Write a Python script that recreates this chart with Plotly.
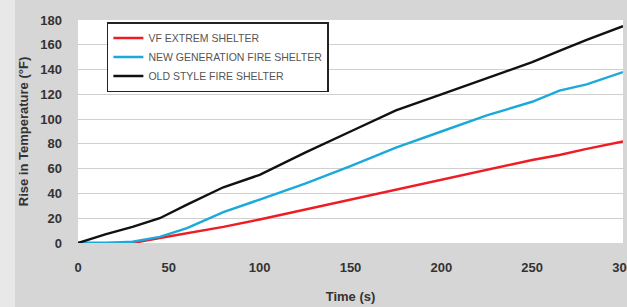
import plotly.graph_objects as go

time_s = [0, 15, 30, 45, 60, 80, 100, 125, 150, 175, 200, 225, 250, 265, 280, 300]
vf_extrem = [0, 0, 0, 4, 8, 13, 19, 27, 35, 43, 51, 59, 67, 71, 76, 82]
new_gen = [0, 0, 1, 5, 12, 25, 35, 48, 62, 77, 90, 103, 114, 123, 128, 138]
old_style = [0, 7, 13, 20, 31, 45, 55, 73, 90, 107, 120, 133, 146, 155, 164, 175]

series_names = ["VF EXTREM SHELTER", "NEW GENERATION FIRE SHELTER", "OLD STYLE FIRE SHELTER"]
series_colors = ["#ee1c25", "#1ba9d9", "#111111"]
x_ticks = [0, 50, 100, 150, 200, 250, 300]
y_ticks = [0, 20, 40, 60, 80, 100, 120, 140, 160, 180]

fig = go.Figure()
for name, vals, col in zip(series_names, [vf_extrem, new_gen, old_style], series_colors):
    fig.add_trace(go.Scatter(x=time_s, y=vals, mode="lines", name=name,
                             line=dict(color=col, width=2.4)))

font_fam = "Liberation Sans, Arial, sans-serif"
fig.update_layout(
    width=627, height=307,
    margin=dict(l=78, r=4, t=20, b=64),
    paper_bgcolor="#d6d6d6",
    plot_bgcolor="#ffffff",
    font=dict(family=font_fam, color="#333333"),
    showlegend=True,
    legend=dict(x=0.053, y=0.991, xanchor="left", yanchor="top",
                bgcolor="#ffffff", bordercolor="#222222", borderwidth=1.5,
                font=dict(size=10.5, color="#555555"), tracegroupgap=0,
                itemwidth=30),
    xaxis=dict(range=[0, 300], tickvals=x_ticks, showgrid=False, zeroline=False,
               showline=False, ticks="", ticklabeloverflow="allow", automargin=False,
               ticklabelstandoff=15,
               tickfont=dict(size=13, color="#333333", family=font_fam, weight="bold"),
               title=dict(text="Time (s)", standoff=17,
                          font=dict(size=13, color="#333333", family=font_fam, weight="bold"))),
    yaxis=dict(range=[0, 180], tickvals=y_ticks, showgrid=True, gridcolor="#cfcfcf",
               gridwidth=1, zeroline=False, showline=False, ticks="", automargin=False,
               ticklabelstandoff=15,
               tickfont=dict(size=13, color="#333333", family=font_fam, weight="bold"),
               title=dict(text="Rise in Temperature (°F)", standoff=8,
                          font=dict(size=13, color="#333333", family=font_fam, weight="bold"))),
)
fig.add_shape(type="rect", xref="paper", yref="paper", x0=-78/545, x1=-63/545, y0=-64/223, y1=1+20/223,
              fillcolor="#e8e8e8", line_width=0, layer="below")
fig.write_html("out.html", config={"displayModeBar": False},
               post_script="document.body.style.margin='0';document.body.style.overflow='hidden';")
